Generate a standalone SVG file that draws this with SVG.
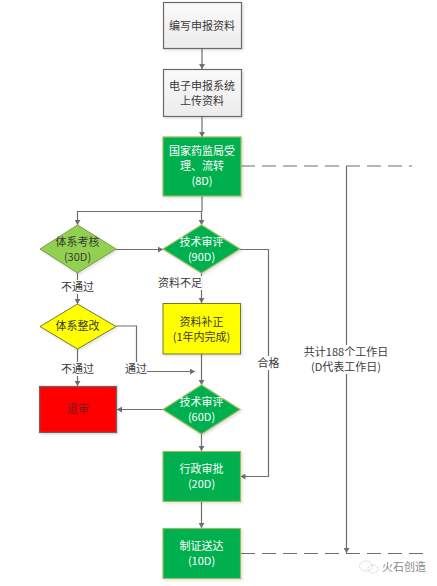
<svg xmlns="http://www.w3.org/2000/svg" width="437" height="586" viewBox="0 0 437 586">
<style>
text{font-family:"Noto Sans CJK SC","Liberation Sans",sans-serif;font-size:11px;text-anchor:middle;fill:#3a3a3a}
.w{fill:#fff}
.c{fill:none;stroke:#6e6e6e;stroke-width:1.2}
.a{marker-end:url(#ah)}
.d{stroke-dasharray:14 7}
.g{fill:#00b050;stroke:#9bbb59;stroke-width:1.2;filter:url(#sh)}
.y{fill:#ff0;stroke:#77772a;stroke-width:1;filter:url(#sh)}
.s{fill:url(#gr);stroke:#6b6b6b;stroke-width:1.2;filter:url(#sh)}
.lg{fill:#92d050;stroke:#7c9a4c;stroke-width:1;filter:url(#sh)}
.r{fill:#f00;stroke:#666;stroke-width:1.2;filter:url(#sh)}
.bg{fill:#fff}
</style>
<defs>
<linearGradient id="gr" x1="0" y1="0" x2="0" y2="1"><stop offset="0" stop-color="#fafafa"/><stop offset="1" stop-color="#ececec"/></linearGradient>
<filter id="sh" x="-10%" y="-10%" width="125%" height="125%"><feDropShadow dx="1.5" dy="1.5" stdDeviation="1" flood-color="#000" flood-opacity="0.12"/></filter>
<marker id="ah" markerUnits="userSpaceOnUse" markerWidth="6" markerHeight="6" refX="5" refY="3" orient="auto"><path d="M0 0L5 3L0 6Z" fill="#6e6e6e"/></marker>
</defs>
<g id="connectors">
<path class="c a" d="M202 48.5V69"/>
<path class="c a" d="M202 116.5V137"/>
<path class="c" d="M202 196V211.5"/>
<path class="c a" d="M202 211.5H77.5V225"/>
<path class="c a" d="M202 211.5H201.5V225"/>
<path class="c a" d="M116 249.5H163"/>
<path class="c a" d="M77.5 273V304"/>
<path class="c a" d="M201.5 273V303"/>
<path class="c a" d="M240 249.5H268.5V476.5H240.5"/>
<path class="c a" d="M116 326H136.5V371.5H195"/>
<path class="c a" d="M77.5 349V386"/>
<path class="c a" d="M201.5 354V385"/>
<path class="c a" d="M163 409.5H117"/>
<path class="c a" d="M201.5 434V451"/>
<path class="c a" d="M201.5 501V528"/>
<path class="c d" d="M241 166H412"/>
<path class="c d" d="M241 553.5H426"/>
<path class="c a" d="M346.5 166V553"/>
</g>
<g id="n1"><rect class="s" x="163.5" y="2.5" width="78" height="46"/><text x="202" y="30">编写申报资料</text></g>
<g id="n2"><rect class="s" x="163.5" y="69.5" width="78" height="47"/><text x="202" y="90">电子申报系统</text><text x="202" y="105">上传资料</text></g>
<g id="n3"><rect class="g" x="163" y="137" width="78" height="59"/><text class="w" x="202" y="155">国家药监局受</text><text class="w" x="202" y="170">理、流转</text><text class="w" x="202" y="185">(8D)</text></g>
<g id="n4"><polygon class="lg" points="77.5,225 116,249 77.5,273 40,249"/><text x="77.5" y="246">体系考核</text><text x="77.5" y="261">(30D)</text></g>
<g id="n5"><polygon class="g" points="201.5,225 240,249 201.5,273 163,249"/><text class="w" x="201.5" y="246">技术审评</text><text class="w" x="201.5" y="261">(90D)</text></g>
<g id="n6"><polygon class="y" points="77.5,304 116,326.5 77.5,349 40,326.5"/><text x="77.5" y="330">体系整改</text></g>
<g id="n7"><rect class="y" x="163" y="303.5" width="77.5" height="50.5"/><text x="201.5" y="326">资料补正</text><text x="201.5" y="341">(1年内完成)</text></g>
<g id="n8"><rect class="r" x="39.5" y="386.5" width="77" height="46"/><text x="78" y="413" style="fill:#7a1a1a">退审</text></g>
<g id="n9"><polygon class="g" points="201.5,385 240,409.5 201.5,434 163,409.5"/><text class="w" x="201.5" y="406">技术审评</text><text class="w" x="201.5" y="421">(60D)</text></g>
<g id="n10"><rect class="g" x="163" y="451.5" width="77.5" height="50"/><text class="w" x="201.5" y="473">行政审批</text><text class="w" x="201.5" y="488">(20D)</text></g>
<g id="n11"><rect class="g" x="163" y="528.5" width="77.5" height="50"/><text class="w" x="201.5" y="550">制证送达</text><text class="w" x="201.5" y="565">(10D)</text></g>
<g id="labels">
<rect class="bg" x="60" y="280" width="35" height="14"/><text x="77.5" y="291">不通过</text>
<rect class="bg" x="158" y="276" width="44" height="14"/><text x="180" y="287">资料不足</text>
<rect class="bg" x="60" y="362" width="35" height="14"/><text x="77.5" y="373">不通过</text>
<rect class="bg" x="125" y="362" width="22" height="14"/><text x="136" y="373">通过</text>
<rect class="bg" x="257" y="356" width="23" height="14"/><text x="268.5" y="367">合格</text>
<rect class="bg" x="302" y="345" width="88" height="29"/><text x="346" y="356">共计188个工作日</text><text x="346" y="371">(D代表工作日)</text>
</g>
<g id="watermark">
<ellipse cx="366" cy="566" rx="6.5" ry="5" fill="none" stroke="#ccc" stroke-width="1" stroke-dasharray="1.5 1"/>
<ellipse cx="373" cy="569" rx="5" ry="4" fill="none" stroke="#ccc" stroke-width="1" stroke-dasharray="1.5 1"/>
<text x="404" y="571" style="fill:#8a8a8a">火石创造</text>
</g>
</svg>
